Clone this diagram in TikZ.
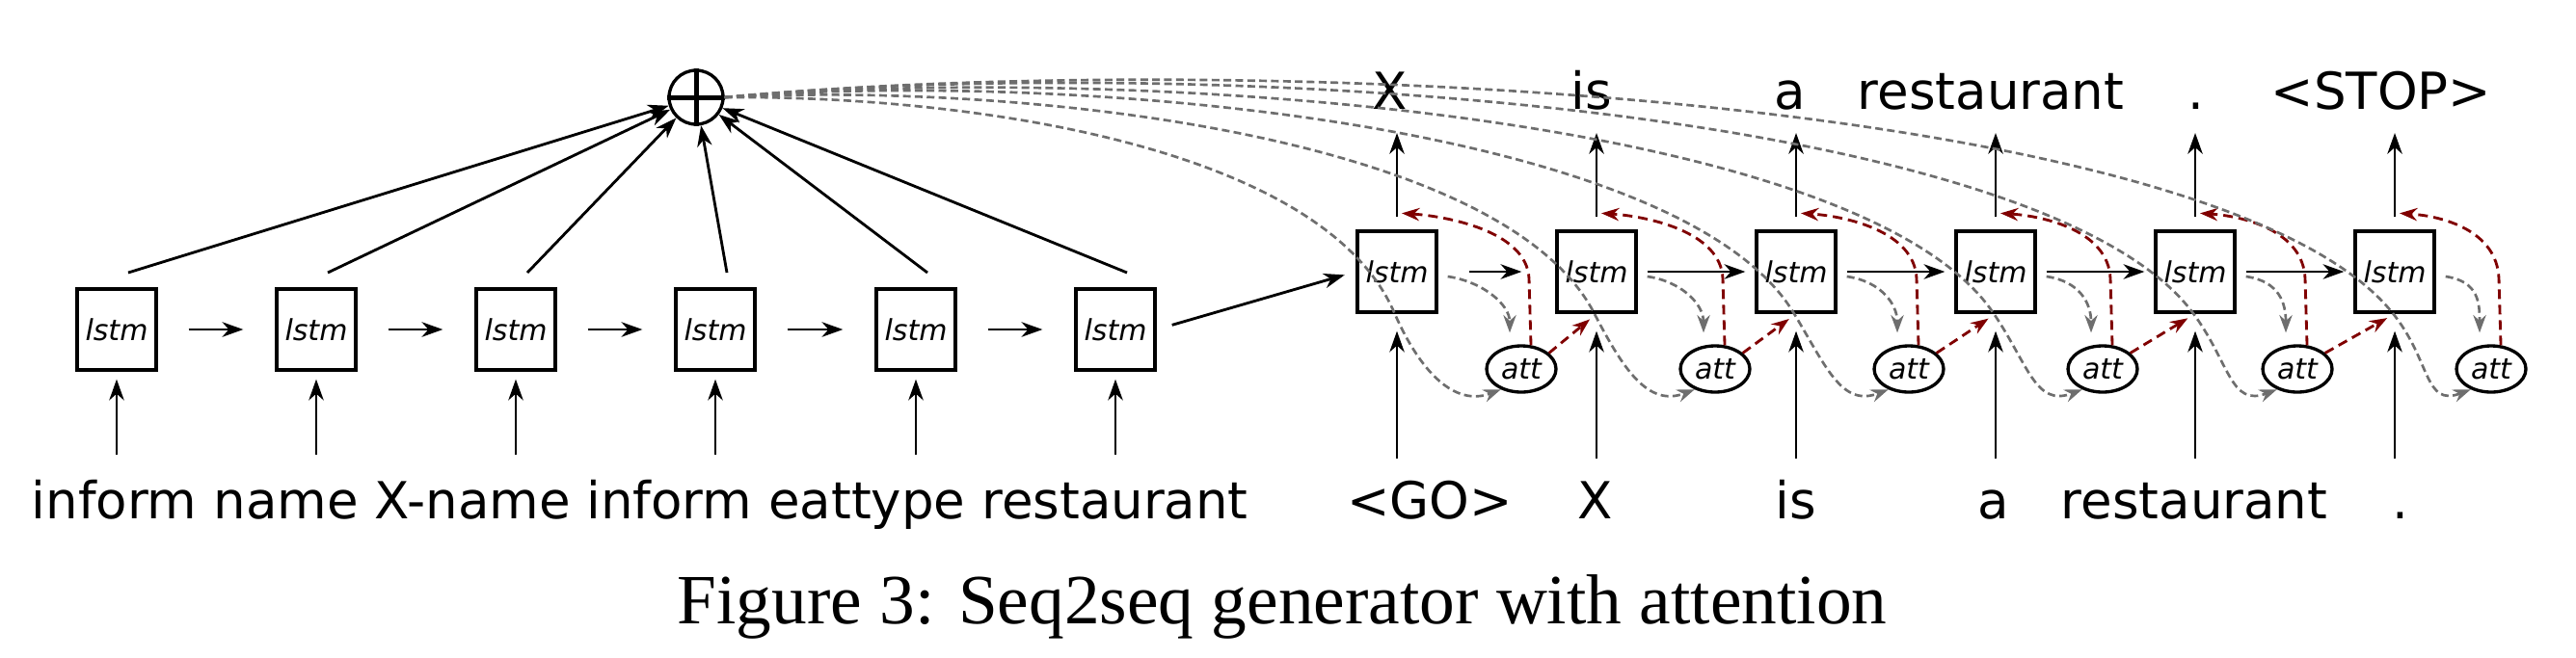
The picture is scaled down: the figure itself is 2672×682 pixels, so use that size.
\documentclass[tikz,border=0pt]{standalone}
\usepackage{fontspec}
\setmainfont{DejaVu Sans}
\newfontfamily\capfont{Liberation Serif}
\usetikzlibrary{arrows.meta,shapes.geometric,calc}
\definecolor{attred}{RGB}{128,0,0}
\definecolor{attgray}{RGB}{110,110,110}
\begin{document}
\begin{tikzpicture}[x=0.3pt,y=-0.3pt,
  arr/.style={line width=0.85pt,-{Stealth[length=6.5pt,width=4.6pt,inset=2pt]}},
  lstmbox/.style={draw,line width=1pt,minimum width=24.6pt,minimum height=25.2pt,inner sep=0pt,font=\fontsize{9}{10}\selectfont\itshape},
  attnode/.style={ellipse,draw,line width=1pt,minimum width=21.6pt,minimum height=14.4pt,inner sep=0pt,font=\fontsize{9}{10}\selectfont\itshape},
  word/.style={inner sep=0pt,anchor=base,font=\fontsize{15.9}{19}\selectfont},
  gdash/.style={draw=attgray,line width=0.8pt,dash pattern=on 2.4pt off 1.3pt,-{Stealth[length=5.5pt,width=4pt,inset=1.8pt]}},
  rdash/.style={draw=attred,line width=0.85pt,dash pattern=on 3pt off 1.8pt,-{Stealth[length=5.5pt,width=4pt,inset=1.8pt]}},
]
\useasboundingbox (0,0) rectangle (2672,682);

% sum node
\node[circle,draw,line width=1pt,minimum size=16.8pt,inner sep=0pt] (plus) at (722,101) {};
\draw[line width=1.5pt] (plus.north) -- (plus.south) (plus.west) -- (plus.east);

% encoder
\foreach \i/\x in {1/121,2/328,3/535,4/742,5/950,6/1157}{
  \node[lstmbox] (e\i) at (\x,342) {lstm};
  \coordinate (eI\i) at (\x,472);
  \coordinate (eT\i) at ($(\x,283)+(12,0)$);
  \draw[arr,shorten >=2.4pt] (eI\i) -- (e\i.south);
  \draw[arr] (eT\i) -- (plus);
}
\foreach \i/\j in {1/2,2/3,3/4,4/5,5/6}
  \draw[arr,shorten <=9.6pt,shorten >=9.9pt] (e\i.east) -- (e\j.west);

\node[word,anchor=base west] (inwords) at (32,538) {inform name X-name inform eattype restaurant};

% decoder
\foreach \i/\x/\ax in {1/1449/1578,2/1656/1779,3/1863/1980,4/2070/2181,5/2277/2383,6/2484/2584}{
  \node[lstmbox] (d\i) at (\x,282) {lstm};
  \node[attnode] (a\i) at (\ax,383) {att};
  \coordinate (dI\i) at (\x,476);
  \coordinate (dO\i) at (\x,138);
  \draw[arr,shorten >=5.4pt] (dI\i) -- (d\i.south);
  \draw[arr,shorten <=3.9pt] (d\i.north) -- (dO\i);
}
\draw[arr,shorten <=5pt,shorten >=3.6pt] (e6.east) -- (d1.west);
\draw[arr,shorten <=9.6pt,shorten >=10.5pt] (d1.east) -- (d2.west);
\foreach \i/\j in {2/3,3/4,4/5,5/6}
  \draw[arr,shorten <=3pt,shorten >=3pt] (d\i.east) -- (d\j.west);

% decoder words
\foreach \n/\x/\t in {gi1/1483/{<GO>},gi2/1655/X,gi3/1863/is,gi4/2068/a,gi5/2276/restaurant,gi6/2490/.}
  \node[word] (\n) at (\x,538) {\t};
\foreach \n/\x/\t in {go1/1442/X,go2/1651/is,go3/1857/a,go4/2065/restaurant,go5/2278/.,go6/2470/{<STOP>}}
  \node[word] (\n) at (\x,113) {\t};

% attention arrows
\foreach \i in {1,...,6}{
  \draw[gdash] ($(d\i.east)+(10,5)$) .. controls +(35,5) and +(0,-30) .. ($(a\i.north)+(-12,-12)$);
  \draw[rdash] ($(a\i.north)+(10,1)$) -- ++(-2,-69) .. controls +(-2,-50) and +(45,3) .. ($(d\i.north)+(5,-17)$);
}
\foreach \i/\j in {1/2,2/3,3/4,4/5,5/6}
  \draw[rdash,shorten >=2.7pt] (a\i.30) -- (d\j.south);

% context curves from the sum node
\draw[gdash] (plus.east) .. controls (1000,99) and (1370,150) .. (1446,324) .. controls (1472,384) and (1508,423) .. (a1.225);
\draw[gdash] (plus.east) .. controls (1060,85) and (1556,140) .. (1653,324) .. controls (1683,382) and (1709,423) .. (a2.225);
\draw[gdash] (plus.east) .. controls (1120,72) and (1742,130) .. (1860,324) .. controls (1894,380) and (1910,423) .. (a3.225);
\draw[gdash] (plus.east) .. controls (1180,65) and (1927,120) .. (2067,324) .. controls (2104,378) and (2111,423) .. (a4.225);
\draw[gdash] (plus.east) .. controls (1240,55) and (2113,110) .. (2274,324) .. controls (2313,376) and (2313,423) .. (a5.225);
\draw[gdash] (plus.east) .. controls (1300,50) and (2299,100) .. (2481,324) .. controls (2522,374) and (2514,423) .. (a6.225);

% caption
\node[inner sep=0pt,anchor=base,font=\capfont\fontsize{22}{26}\selectfont] (cap) at (1330,647) {Figure 3: Seq2seq generator with attention};
\end{tikzpicture}
\end{document}
